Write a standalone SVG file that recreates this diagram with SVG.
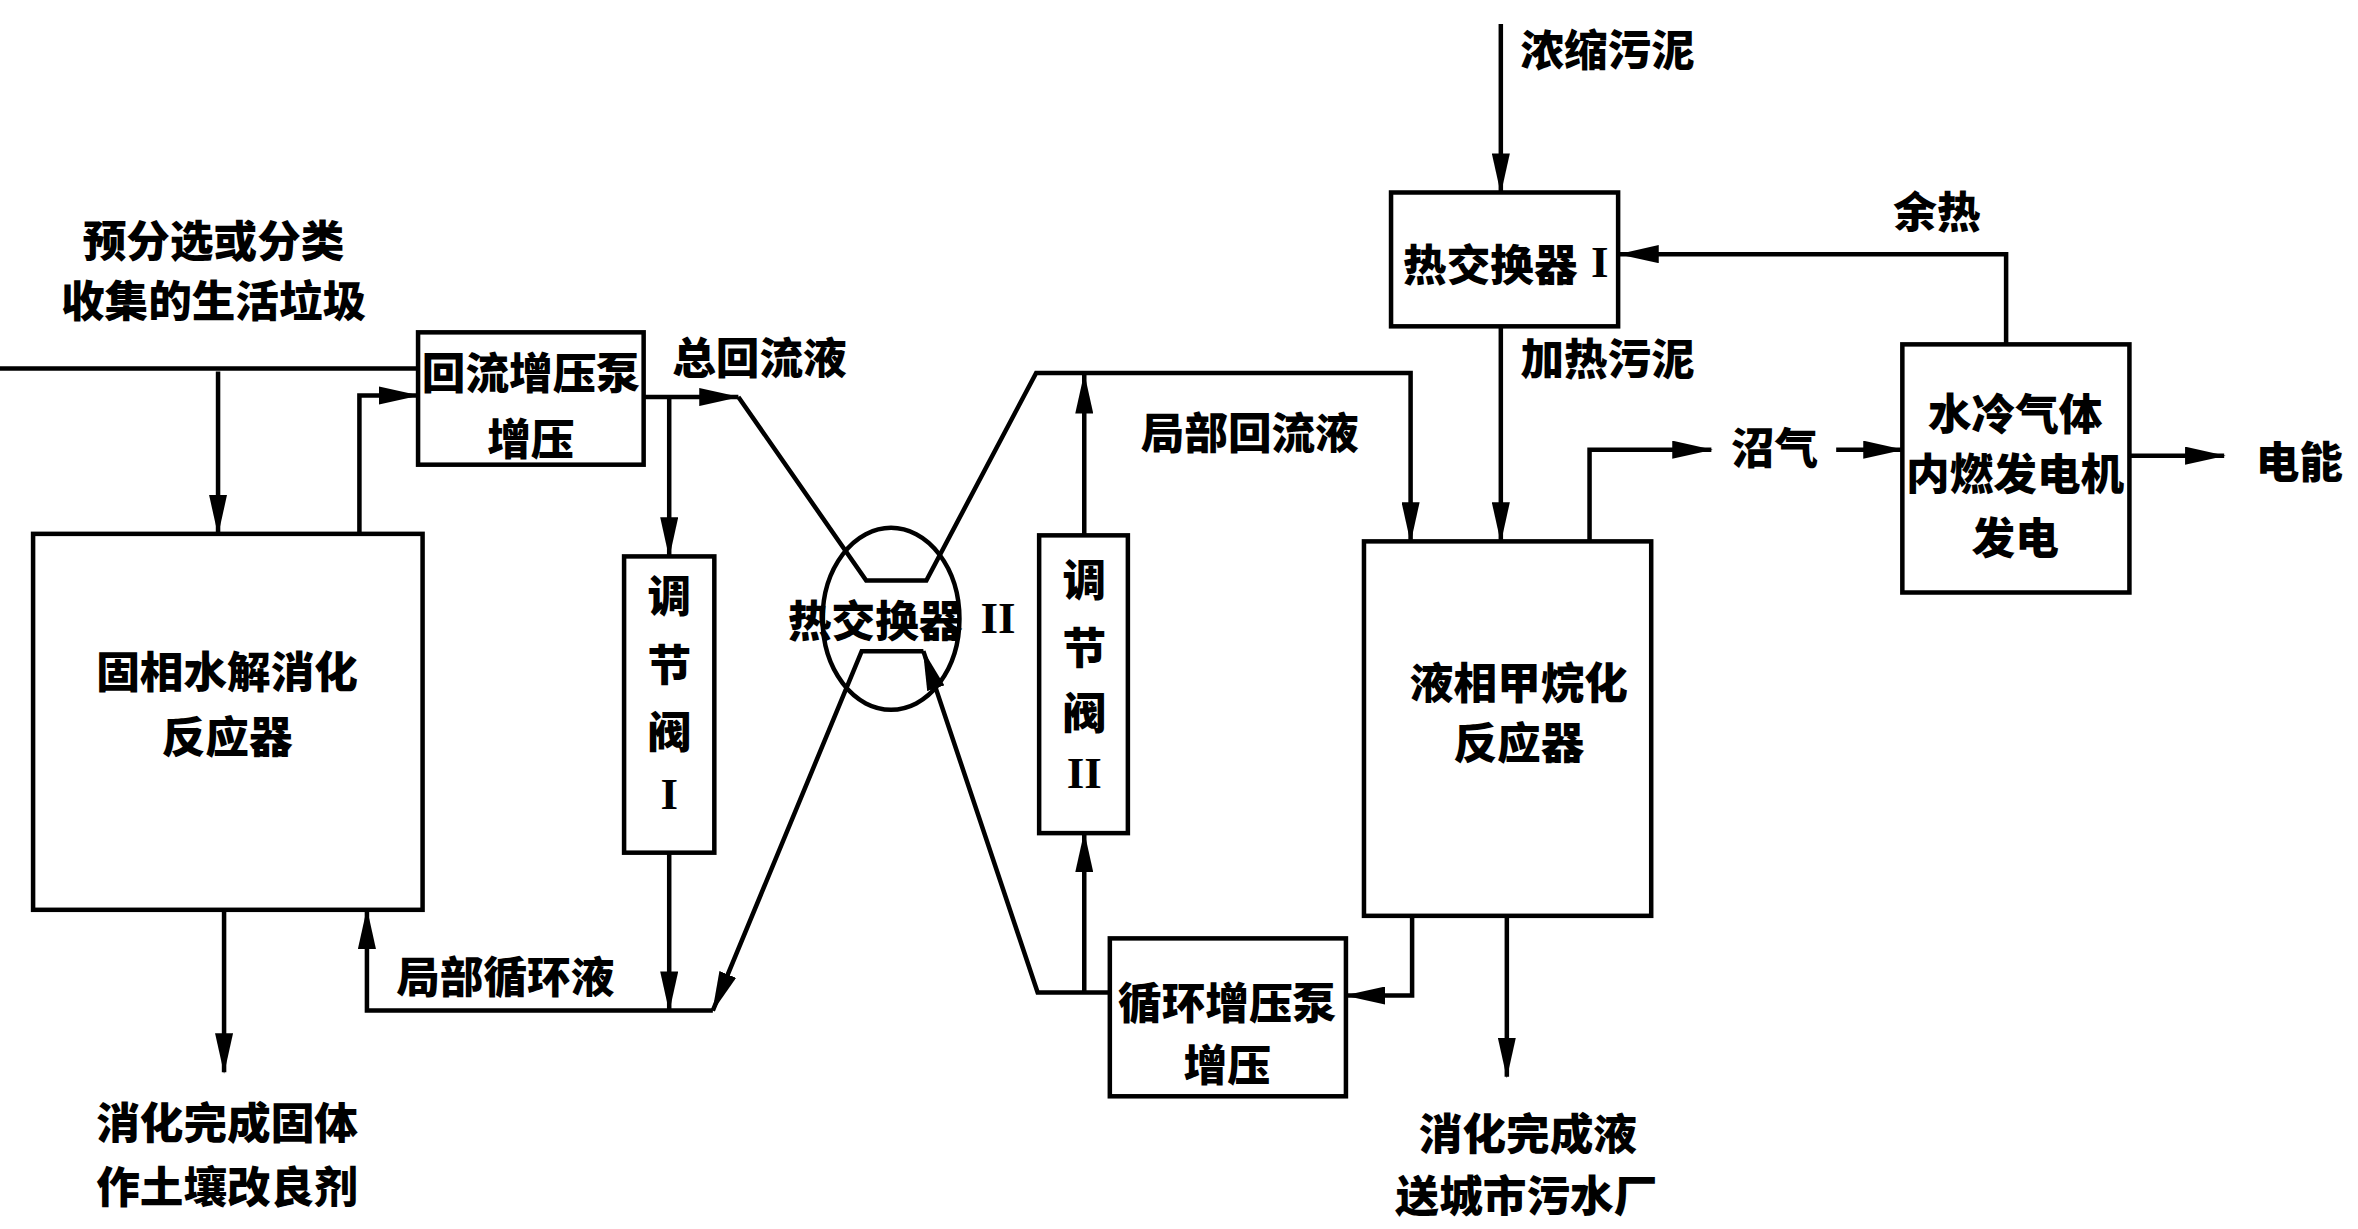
<svg xmlns="http://www.w3.org/2000/svg" width="2358" height="1229" viewBox="0 0 2358 1229">
<style>
.bg{fill:#fff}
.box{fill:none;stroke:#000;stroke-width:3}
.ln{fill:none;stroke:#000;stroke-width:3;stroke-linejoin:miter}
.ar{marker-end:url(#ah)}
.t{font-family:"Noto Sans CJK SC","Noto Sans",sans-serif;font-weight:900;font-size:29px;fill:#000;text-anchor:middle;dominant-baseline:central}
.s{text-anchor:start}
.r{font-family:"Liberation Serif",serif;font-weight:700;font-size:30px}
</style>
<defs>
<marker id="ah" markerUnits="userSpaceOnUse" markerWidth="27" markerHeight="12" viewBox="0 0 27 12" refX="26" refY="6" orient="auto">
<path d="M0,0 L27,6 L0,12 z" fill="#000"/>
</marker>
</defs>
<rect class="bg" x="0" y="0" width="2358" height="1229"/>
<g transform="scale(1.50383)">
<g id="connectors">
<path class="ln" d="M0,245 H278"/>
<path class="ln ar" d="M145,247 V355"/>
<path class="ln ar" d="M239,355 V263 H278"/>
<path class="ln ar" d="M428,264 H491"/>
<path class="ln ar" d="M491,264 L576,386 H616 L689,248 H938 V360"/>
<path class="ln ar" d="M445,264 V370"/>
<path class="ln ar" d="M445,567 V672"/>
<path class="ln ar" d="M614,433 H573 L474,672"/>
<path class="ln ar" d="M474,672 H244 V605"/>
<path class="ln ar" d="M738,660 H690 L614,433"/>
<path class="ln ar" d="M149,605 V713"/>
<path class="ln ar" d="M721,660 V554"/>
<path class="ln ar" d="M721,356 V249"/>
<path class="ln ar" d="M939,609 V662 H895"/>
<path class="ln ar" d="M1002,609 V716"/>
<path class="ln ar" d="M998,16 V128"/>
<path class="ln ar" d="M998,217 V360"/>
<path class="ln ar" d="M1057,360 V299 H1138"/>
<path class="ln ar" d="M1221,299 H1265"/>
<path class="ln ar" d="M1416,303 H1479"/>
<path class="ln ar" d="M1334,229 V169 H1077"/>
</g>
<g id="labels">
<text class="t" x="142" y="158">预分选或分类</text>
<text class="t" x="142" y="198">收集的生活垃圾</text>
<text class="t" x="505" y="236">总回流液</text>
<text class="t" x="336" y="648">局部循环液</text>
<text class="t" x="151" y="745">消化完成固体</text>
<text class="t" x="151" y="787">作土壤改良剂</text>
<text class="t" x="831" y="286">局部回流液</text>
<text class="t" x="1016" y="752">消化完成液</text>
<text class="t" x="1015" y="793">送城市污水厂</text>
<text class="t" x="1069" y="31">浓缩污泥</text>
<text class="t" x="1069" y="237">加热污泥</text>
<text class="t" x="1288" y="139">余热</text>
<text class="t" x="1180" y="296">沼气</text>
<text class="t" x="1529" y="305">电能</text>
</g>
<g id="reactor-solid">
<rect class="box" x="22" y="355" width="259" height="250"/>
<text class="t" x="151" y="445">固相水解消化</text>
<text class="t" x="151" y="488">反应器</text>
</g>
<g id="pump-reflux">
<rect class="box" x="278" y="221" width="150" height="88"/>
<text class="t" x="353" y="246">回流增压泵</text>
<text class="t" x="353" y="290">增压</text>
</g>
<g id="valve-1">
<rect class="box" x="415" y="370" width="60" height="197"/>
<text class="t" x="445" y="394">调</text>
<text class="t" x="445" y="440">节</text>
<text class="t" x="445" y="485">阀</text>
<text class="t r" x="445" y="528">I</text>
</g>
<g id="heat-exchanger-2">
<ellipse class="box" cx="592.5" cy="411.5" rx="45.5" ry="60.5"/>
<text class="t s" x="524" y="411">热交换器<tspan class="r" x="652">II</tspan></text>
</g>
<g id="valve-2">
<rect class="box" x="691" y="356" width="59" height="198"/>
<text class="t" x="721" y="384">调</text>
<text class="t" x="721" y="429">节</text>
<text class="t" x="721" y="472">阀</text>
<text class="t r" x="721" y="514">II</text>
</g>
<g id="pump-circulation">
<rect class="box" x="738" y="624" width="157" height="105"/>
<text class="t" x="816" y="665">循环增压泵</text>
<text class="t" x="816" y="706">增压</text>
</g>
<g id="reactor-liquid">
<rect class="box" x="907" y="360" width="191" height="249"/>
<text class="t" x="1010" y="452">液相甲烷化</text>
<text class="t" x="1010" y="492">反应器</text>
</g>
<g id="heat-exchanger-1">
<rect class="box" x="925" y="128" width="151" height="89"/>
<text class="t s" x="933" y="174">热交换器<tspan class="r" x="1058">I</tspan></text>
</g>
<g id="generator">
<rect class="box" x="1265" y="229" width="151" height="165"/>
<text class="t" x="1340" y="273">水冷气体</text>
<text class="t" x="1340" y="313">内燃发电机</text>
<text class="t" x="1340" y="356">发电</text>
</g>
</g>
</svg>
